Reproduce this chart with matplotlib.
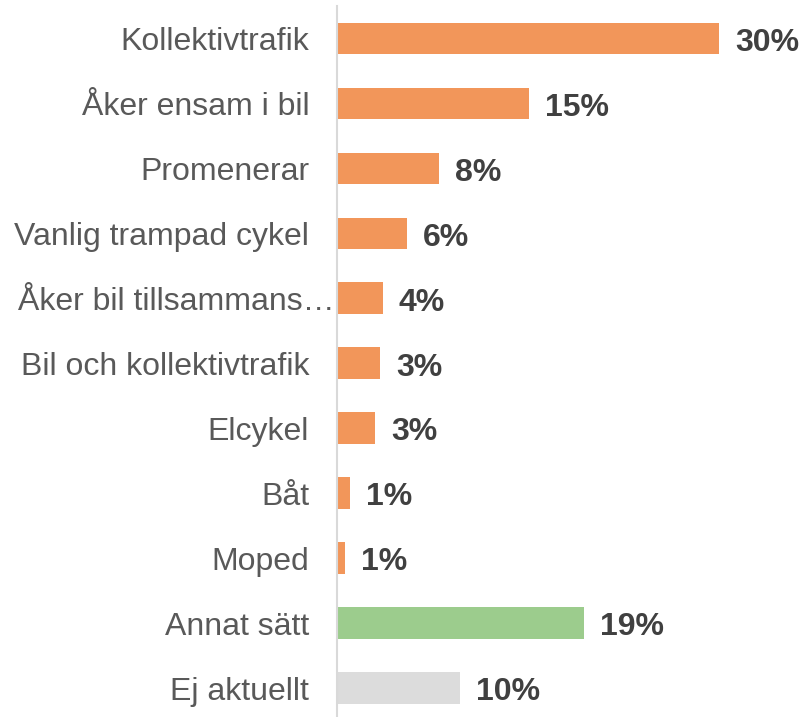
import matplotlib
matplotlib.use("Agg")
import matplotlib.pyplot as plt
import matplotlib.transforms as mtransforms

categories = ["Kollektivtrafik", "Åker ensam i bil", "Promenerar", "Vanlig trampad cykel",
              "Åker bil tillsammans…", "Bil och kollektivtrafik", "Elcykel", "Båt", "Moped",
              "Annat sätt", "Ej aktuellt"]
values = [30.0, 15.1, 8.0, 5.5, 3.6, 3.4, 3.0, 1.0, 0.6, 19.4, 9.7]
labels = ["30%", "15%", "8%", "6%", "4%", "3%", "3%", "1%", "1%", "19%", "10%"]
colors = ["#F2965A"] * 9 + ["#9CCC8D", "#DCDCDC"]

plt.rcParams['font.family'] = ['Liberation Sans', 'DejaVu Sans']

fig = plt.figure(figsize=(8.02, 7.17), dpi=100)
ax = fig.add_axes([337 / 802, -0.005, (782.6 - 337) / 802, 714.5 / 717])

y = list(range(len(categories)))
ax.barh(y, values, height=0.49, color=colors)
for yi, v, lab in zip(y, values, labels):
    ax.annotate(lab, (v, yi), xytext=(11.5, -3), textcoords='offset points',
                ha='left', va='center', fontsize=23, fontweight='bold', color='#404040')

ax.set_xlim(0, 35)
ax.set_ylim(len(categories) - 0.5, -0.5)
ax.set_yticks(y)
ax.set_yticklabels(categories, fontsize=23, color='#595959')
ax.tick_params(axis='y', length=0, pad=20)
ax.set_xticks([])
for s in ['top', 'right', 'bottom']:
    ax.spines[s].set_visible(False)
ax.spines['left'].set_color('#D9D9D9')
ax.spines['left'].set_linewidth(1.5)

# truncated label sits closer to the axis, like the original
for t in ax.get_yticklabels():
    if t.get_text().endswith("…"):
        t.set_transform(t.get_transform() + mtransforms.ScaledTranslation(0.25, 0, fig.dpi_scale_trans))

fig.savefig("out.png", dpi=100)
